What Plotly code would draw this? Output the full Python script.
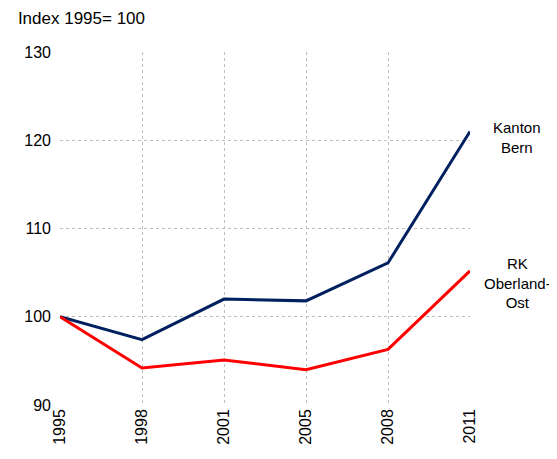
import plotly.graph_objects as go

years = ['1995', '1998', '2001', '2005', '2008', '2011']
kanton_bern = [100, 97.4, 102.0, 101.8, 106.1, 121.0]
oberland_ost = [100, 94.2, 95.1, 94.0, 96.3, 105.2]

fig = go.Figure()
fig.add_trace(go.Scatter(x=years, y=kanton_bern, mode='lines', name='Kanton Bern',
                         line=dict(color='#002060', width=3)))
fig.add_trace(go.Scatter(x=years, y=oberland_ost, mode='lines', name='RK Oberland-Ost',
                         line=dict(color='#FF0000', width=3)))

# Beschriftungen rechts neben den Linien
fig.add_annotation(x=1.115, xref='paper', xanchor='center', y=120.3, yref='y',
                   text='Kanton<br>Bern', showarrow=False, align='center',
                   font=dict(size=15, color='#000000'))
fig.add_annotation(x=1.115, xref='paper', xanchor='center', y=103.8, yref='y',
                   text='RK<br>Oberland-<br>Ost', showarrow=False, align='center',
                   font=dict(size=15, color='#000000'))

# die Seite hat 8px Rand, daher etwas kleiner
fig.update_layout(
    width=549, height=443,
    margin=dict(l=52, r=87, t=44, b=46, autoexpand=False),
    plot_bgcolor='white', paper_bgcolor='white',
    showlegend=False,
    font=dict(family='Liberation Sans, Arial, sans-serif', size=16, color='#000000'),
    title=dict(text='Index 1995= 100', x=0.018, xanchor='left', y=0.99, yanchor='top',
               font=dict(size=17)),
)
fig.update_xaxes(type='category', range=[0, 5], showgrid=True, gridcolor='#BFBFBF',
                 griddash='dot', gridwidth=1, tickangle=-90, ticks='', zeroline=False,
                 showline=False, automargin=False)
fig.update_yaxes(range=[90, 130], dtick=10, showgrid=True, gridcolor='#BFBFBF',
                 griddash='dot', gridwidth=1, ticks='', zeroline=False, showline=False,
                 ticklabelstandoff=8, automargin=False)

fig.write_html("out.html")
